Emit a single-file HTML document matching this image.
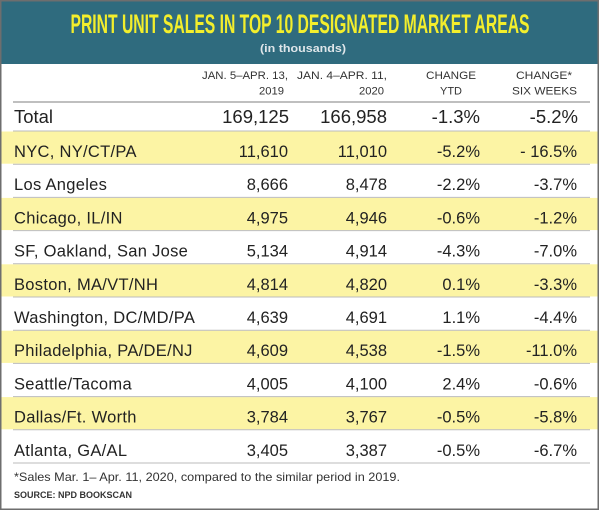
<!DOCTYPE html>
<html>
<head>
<meta charset="utf-8">
<style>
html,body{margin:0;padding:0;background:#fff;}
svg{display:block;}
text{font-family:"Liberation Sans",Arial,sans-serif;}
</style>
</head>
<body>
<svg width="600" height="511" viewBox="0 0 600 511" xmlns="http://www.w3.org/2000/svg">
  <rect x="0" y="0" width="600" height="511" fill="#fff"/>
  <!-- header band -->
  <rect x="0" y="0" width="599" height="64" fill="#2f6b7e"/>
  <text x="300" y="33" text-anchor="middle" font-size="27" font-weight="bold" fill="#f3ee2c" textLength="459" lengthAdjust="spacingAndGlyphs">PRINT UNIT SALES IN TOP 10 DESIGNATED MARKET AREAS</text>
  <text x="303" y="52" text-anchor="middle" font-size="11" font-weight="bold" fill="#dfe6ea" textLength="86" lengthAdjust="spacingAndGlyphs">(in thousands)</text>

  <!-- column headers -->
  <g font-size="11" fill="#333">
    <text x="288" y="79" text-anchor="end" textLength="86" lengthAdjust="spacingAndGlyphs">JAN. 5–APR. 13,</text>
    <text x="284" y="94.5" text-anchor="end" textLength="25" lengthAdjust="spacingAndGlyphs">2019</text>
    <text x="387" y="79" text-anchor="end" textLength="90" lengthAdjust="spacingAndGlyphs">JAN. 4–APR. 11,</text>
    <text x="384" y="94.5" text-anchor="end" textLength="25" lengthAdjust="spacingAndGlyphs">2020</text>
    <text x="451" y="79" text-anchor="middle" textLength="50" lengthAdjust="spacingAndGlyphs">CHANGE</text>
    <text x="451" y="94.5" text-anchor="middle" textLength="22" lengthAdjust="spacingAndGlyphs">YTD</text>
    <text x="544" y="79" text-anchor="middle" textLength="56" lengthAdjust="spacingAndGlyphs">CHANGE*</text>
    <text x="544.5" y="94.5" text-anchor="middle" textLength="65" lengthAdjust="spacingAndGlyphs">SIX WEEKS</text>
  </g>
  <line x1="13" y1="102" x2="590" y2="102" stroke="#aaa" stroke-width="1.5"/>

  <!-- Total row -->
  <g font-size="18.5" fill="#222">
    <text x="14" y="123" textLength="39" lengthAdjust="spacingAndGlyphs">Total</text>
    <text x="289" y="123" text-anchor="end">169,125</text>
    <text x="387" y="123" text-anchor="end">166,958</text>
    <text x="480" y="123" text-anchor="end">-1.3%</text>
    <text x="578" y="123" text-anchor="end">-5.2%</text>
  </g>
  <line x1="13" y1="131" x2="590" y2="131" stroke="#bbb" stroke-width="1"/>

  <!-- yellow bands -->
  <g fill="#fcf4a4">
    <rect x="1.5" y="131.5" width="596" height="32.2"/>
    <rect x="1.5" y="197.9" width="596" height="32.2"/>
    <rect x="1.5" y="264.3" width="596" height="32.2"/>
    <rect x="1.5" y="330.7" width="596" height="32.2"/>
    <rect x="1.5" y="397.1" width="596" height="32.2"/>
  </g>

  <!-- row lines -->
  <g stroke="#bbb" stroke-width="1">
    <line x1="13" y1="164.2" x2="590" y2="164.2"/>
    <line x1="13" y1="197.4" x2="590" y2="197.4"/>
    <line x1="13" y1="230.6" x2="590" y2="230.6"/>
    <line x1="13" y1="263.8" x2="590" y2="263.8"/>
    <line x1="13" y1="297" x2="590" y2="297"/>
    <line x1="13" y1="330.2" x2="590" y2="330.2"/>
    <line x1="13" y1="363.4" x2="590" y2="363.4"/>
    <line x1="13" y1="396.6" x2="590" y2="396.6"/>
    <line x1="13" y1="429.8" x2="590" y2="429.8"/>
    <line x1="13" y1="463" x2="590" y2="463"/>
  </g>

  <!-- data rows -->
  <g font-size="16.5" fill="#222">
    <g transform="translate(0,157)">
      <text x="14" y="0" letter-spacing="0.3">NYC, NY/CT/PA</text>
      <text x="288" y="0" text-anchor="end">11,610</text>
      <text x="387" y="0" text-anchor="end">11,010</text>
      <text x="480" y="0" text-anchor="end">-5.2%</text>
      <text x="577" y="0" text-anchor="end">- 16.5%</text>
    </g>
    <g transform="translate(0,190.2)">
      <text x="14" y="0" letter-spacing="0.3">Los Angeles</text>
      <text x="288" y="0" text-anchor="end">8,666</text>
      <text x="387" y="0" text-anchor="end">8,478</text>
      <text x="480" y="0" text-anchor="end">-2.2%</text>
      <text x="577" y="0" text-anchor="end">-3.7%</text>
    </g>
    <g transform="translate(0,223.4)">
      <text x="14" y="0" letter-spacing="0.3">Chicago, IL/IN</text>
      <text x="288" y="0" text-anchor="end">4,975</text>
      <text x="387" y="0" text-anchor="end">4,946</text>
      <text x="480" y="0" text-anchor="end">-0.6%</text>
      <text x="577" y="0" text-anchor="end">-1.2%</text>
    </g>
    <g transform="translate(0,256.6)">
      <text x="14" y="0" letter-spacing="0.3">SF, Oakland, San Jose</text>
      <text x="288" y="0" text-anchor="end">5,134</text>
      <text x="387" y="0" text-anchor="end">4,914</text>
      <text x="480" y="0" text-anchor="end">-4.3%</text>
      <text x="577" y="0" text-anchor="end">-7.0%</text>
    </g>
    <g transform="translate(0,289.8)">
      <text x="14" y="0" letter-spacing="0.3">Boston, MA/VT/NH</text>
      <text x="288" y="0" text-anchor="end">4,814</text>
      <text x="387" y="0" text-anchor="end">4,820</text>
      <text x="480" y="0" text-anchor="end">0.1%</text>
      <text x="577" y="0" text-anchor="end">-3.3%</text>
    </g>
    <g transform="translate(0,323)">
      <text x="14" y="0" letter-spacing="0.3">Washington, DC/MD/PA</text>
      <text x="288" y="0" text-anchor="end">4,639</text>
      <text x="387" y="0" text-anchor="end">4,691</text>
      <text x="480" y="0" text-anchor="end">1.1%</text>
      <text x="577" y="0" text-anchor="end">-4.4%</text>
    </g>
    <g transform="translate(0,356.2)">
      <text x="14" y="0" letter-spacing="0.3">Philadelphia, PA/DE/NJ</text>
      <text x="288" y="0" text-anchor="end">4,609</text>
      <text x="387" y="0" text-anchor="end">4,538</text>
      <text x="480" y="0" text-anchor="end">-1.5%</text>
      <text x="577" y="0" text-anchor="end">-11.0%</text>
    </g>
    <g transform="translate(0,389.4)">
      <text x="14" y="0" letter-spacing="0.3">Seattle/Tacoma</text>
      <text x="288" y="0" text-anchor="end">4,005</text>
      <text x="387" y="0" text-anchor="end">4,100</text>
      <text x="480" y="0" text-anchor="end">2.4%</text>
      <text x="577" y="0" text-anchor="end">-0.6%</text>
    </g>
    <g transform="translate(0,422.6)">
      <text x="14" y="0" letter-spacing="0.3">Dallas/Ft. Worth</text>
      <text x="288" y="0" text-anchor="end">3,784</text>
      <text x="387" y="0" text-anchor="end">3,767</text>
      <text x="480" y="0" text-anchor="end">-0.5%</text>
      <text x="577" y="0" text-anchor="end">-5.8%</text>
    </g>
    <g transform="translate(0,455.8)">
      <text x="14" y="0" letter-spacing="0.3">Atlanta, GA/AL</text>
      <text x="288" y="0" text-anchor="end">3,405</text>
      <text x="387" y="0" text-anchor="end">3,387</text>
      <text x="480" y="0" text-anchor="end">-0.5%</text>
      <text x="577" y="0" text-anchor="end">-6.7%</text>
    </g>
  </g>

  <!-- footnotes -->
  <text x="14" y="481" font-size="12" fill="#333" textLength="386" lengthAdjust="spacingAndGlyphs">*Sales Mar. 1– Apr. 11, 2020, compared to the similar period in 2019.</text>
  <text x="14" y="498" font-size="9.5" font-weight="bold" fill="#333" textLength="118" lengthAdjust="spacingAndGlyphs">SOURCE: NPD BOOKSCAN</text>

  <!-- outer border -->
  <rect x="0.75" y="0.75" width="597.5" height="508.5" fill="none" stroke="#6e6e6e" stroke-width="1.5"/>
</svg>
</body>
</html>
